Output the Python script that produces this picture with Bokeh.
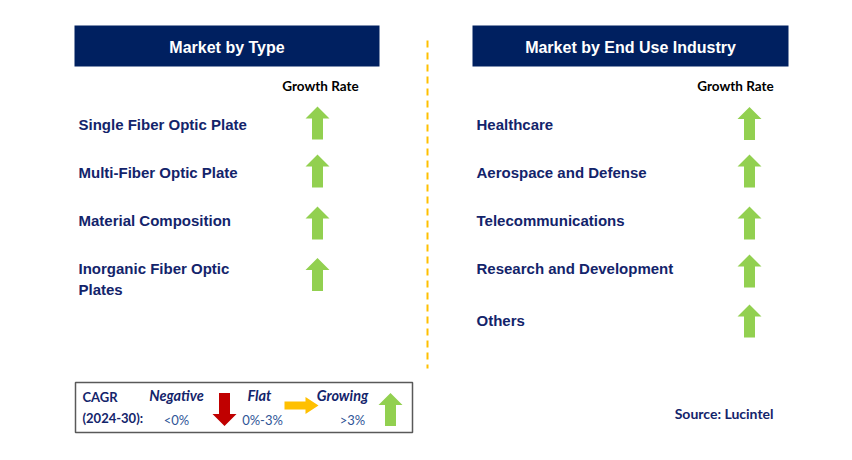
from bokeh.plotting import figure
from bokeh.models import Range1d
from bokeh.core.properties import value
from bokeh.embed import file_html
from bokeh.resources import INLINE

# ---------------- data ----------------
left_title = "Market by Type"
right_title = "Market by End Use Industry"
column_label = "Growth Rate"
type_labels = ["Single Fiber Optic Plate", "Multi-Fiber Optic Plate",
               "Material Composition", "Inorganic Fiber Optic\nPlates"]
type_growth = ["up", "up", "up", "up"]
industry_labels = ["Healthcare", "Aerospace and Defense", "Telecommunications",
                   "Research and Development", "Others"]
industry_growth = ["up", "up", "up", "up", "up"]
legend_title = ["CAGR", "(2024-30):"]
legend_names = ["Negative", "Flat", "Growing"]
legend_ranges = ["<0%", "0%-3%", ">3%"]
legend_dirs = ["down", "right", "up"]
source_text = "Source: Lucintel"

# ---------------- styles ----------------
NAVY = "#002060"
TEXT_NAVY = "#13246B"
LIGHT_BLUE = "#2F5597"
GREEN = "#92D050"
RED = "#C00000"
YELLOW = "#FFC000"
DIR_COLOR = {"up": GREEN, "down": RED, "right": YELLOW}
ARIAL = value("Liberation Sans")
CALIBRI = value("Lato")

W, H = 836, 444
p = figure(width=W, height=H, output_backend="svg", toolbar_location=None,
           x_range=Range1d(0, W), y_range=Range1d(H, 0),
           min_border=0, outline_line_color=None, background_fill_color="white")
p.axis.visible = False
p.grid.visible = False


def arrow(cx, cy, direction, length=33, head_w=24, shaft_w=11, head_len=12):
    """Block arrow centered at (cx, cy), y pointing down on screen."""
    L, hw, sw, hl = length / 2, head_w / 2, shaft_w / 2, head_len
    pts = [(0, -L), (hw, -L + hl), (sw, -L + hl), (sw, L), (-sw, L), (-sw, -L + hl), (-hw, -L + hl)]
    if direction == "down":
        pts = [(x, -y) for x, y in pts]
    elif direction == "right":
        pts = [(-y, x) for x, y in pts]
    return [cx + x for x, y in pts], [cy + y for x, y in pts]


# headers
for (x0, x1), title in [((74, 379), left_title), ((472, 788), right_title)]:
    p.quad(left=x0, right=x1, top=25, bottom=66, fill_color=NAVY, line_color=None)
    p.text(x=[(x0 + x1) / 2], y=[46.5], text=[title], text_color="white",
           text_font=ARIAL, text_font_style="bold", text_font_size="16px",
           text_align="center", text_baseline="middle")

# divider
p.line([427, 427], [40, 368], line_color=YELLOW, line_width=2, line_dash="7 5")

# growth rate labels
for gx in [320, 735]:
    p.text(x=[gx], y=[85], text=[column_label], text_color="black",
           text_font=CALIBRI, text_font_style="bold", text_font_size="13.5px",
           text_align="center", text_baseline="middle")


def draw_rows(labels, growth, x_text, x_arrow, text_y, arrow_y):
    xs, ys, cols = [], [], []
    for lab, g, y, ay0 in zip(labels, growth, text_y, arrow_y):
        lines = lab.split("\n")
        offs = [(i - (len(lines) - 1) / 2) * 21 for i in range(len(lines))]
        for ln, o in zip(lines, offs):
            p.text(x=[x_text], y=[y + o], text=[ln], text_color=TEXT_NAVY,
                   text_font=ARIAL, text_font_style="bold", text_font_size="15px",
                   text_align="left", text_baseline="middle")
        ax, ay = arrow(x_arrow, ay0, g)
        xs.append(ax); ys.append(ay); cols.append(DIR_COLOR[g])
    p.patches(xs=xs, ys=ys, fill_color=cols, line_color=None)


draw_rows(type_labels, type_growth, 78, 317,
          [124, 172, 220, 278.5], [122.5, 170.5, 222.5, 274])
draw_rows(industry_labels, industry_growth, 476, 749,
          [124, 172, 220, 268, 320], [123, 170.5, 222.5, 270.5, 320.5])

# legend box
p.quad(left=75, right=412, top=382, bottom=432, fill_color=None,
       line_color="#595959", line_width=1.5)
for t, y in zip(legend_title, [396, 417]):
    p.text(x=[82], y=[y], text=[t], text_color=TEXT_NAVY, text_font=CALIBRI,
           text_font_style="bold", text_font_size="13px",
           text_align="left", text_baseline="middle")
name_x = [176, 259, 342]
range_x = [176, 262, 352]
arrow_pos = [(224, 409), (301, 405), (390, 409)]
lxs, lys, lcs = [], [], []
for nm, rg, d, nx, rx, (ax0, ay0) in zip(legend_names, legend_ranges, legend_dirs,
                                          name_x, range_x, arrow_pos):
    p.text(x=[nx], y=[395], text=[nm], text_color=TEXT_NAVY, text_font=CALIBRI,
           text_font_style="bold italic", text_font_size="14.5px",
           text_align="center", text_baseline="middle")
    p.text(x=[rx], y=[419], text=[rg], text_color=LIGHT_BLUE, text_font=CALIBRI,
           text_font_size="13px", text_align="center", text_baseline="middle")
    if d == "right":
        ax, ay = arrow(ax0, ay0, d, length=34, head_w=17, shaft_w=8, head_len=13)
    else:
        ax, ay = arrow(ax0, ay0, d, length=33, head_w=24, shaft_w=11, head_len=12)
    lxs.append(ax); lys.append(ay); lcs.append(DIR_COLOR[d])
p.patches(xs=lxs, ys=lys, fill_color=lcs, line_color=None)

# source
p.text(x=[773], y=[413], text=[source_text], text_color=TEXT_NAVY, text_font=CALIBRI,
       text_font_style="bold", text_font_size="14px",
       text_align="right", text_baseline="middle")

open("out.html", "w").write(file_html(p, INLINE))
